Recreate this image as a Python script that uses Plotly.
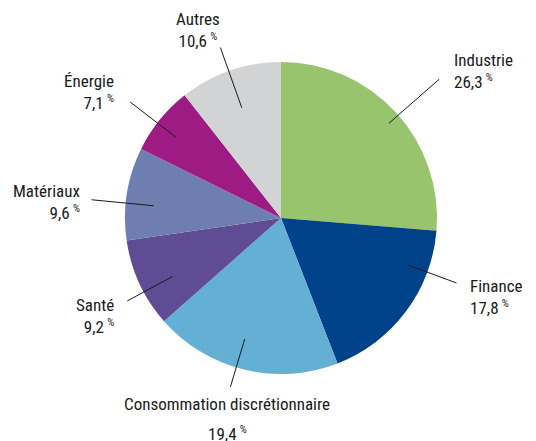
import math
import plotly.graph_objects as go

# ---- data ----
sectors = ["Industrie", "Finance", "Consommation discrétionnaire", "Santé",
           "Matériaux", "Énergie", "Autres"]
weights = [26.3, 17.8, 19.4, 9.2, 9.6, 7.1, 10.6]
colors = ["#98C46E", "#00428A", "#64AFD4", "#604B95", "#6F7EB1", "#9D1B82", "#D2D3D5"]

# ---- layout helpers (pixels) ----
W, H = 536, 441
CX, CY, R = 281, 218, 156
FONT = "Roboto Condensed, Liberation Sans Narrow, DejaVu Sans Condensed, Arial Narrow, sans-serif"
FS = 17

# per-label styling: angle nudge (deg), inner/outer leader radius (fraction of R),
# label anchor (px), xanchor
label_style = [
    dict(da=1.4,  rin=0.92, rout=1.35, x=452, y=71,  xa="left",   ya="middle"),
    dict(da=-16.4, rin=0.87, rout=1.20, x=468, y=297, xa="left",   ya="middle"),
    dict(da=3.0,  rin=0.81, rout=1.13, x=227, y=404, xa="center", ya="middle"),
    dict(da=-3.5, rin=0.79, rout=1.12, x=116, y=316, xa="right",  ya="middle"),
    dict(da=-3.5, rin=0.82, rout=1.22, x=82,  y=202, xa="right",  ya="middle"),
    dict(da=-1.5, rin=0.85, rout=1.22, x=116, y=92,  xa="right",  ya="middle"),
    dict(da=-0.5, rin=0.75, rout=1.16, x=198, y=30,  xa="center", ya="middle"),
]

def px(x):
    return x / W

def py(y):
    return 1 - y / H

fig = go.Figure(go.Pie(
    labels=sectors,
    values=weights,
    sort=False,
    direction="clockwise",
    rotation=0,
    marker=dict(colors=colors, line=dict(width=0)),
    textinfo="none",
    hoverinfo="label+percent",
    showlegend=False,
    domain=dict(x=[px(CX - R), px(CX + R)], y=[py(CY + R), py(CY - R)]),
))

def fmt(v):
    return f"{v:.1f}".replace(".", ",")

total = sum(weights)
cum = 0.0
annotations = []
shapes = []
for name, v, st in zip(sectors, weights, label_style):
    mid = (cum + v / 2) / total * 360 + st["da"]
    cum += v
    a = math.radians(mid)
    sx, sy = math.sin(a), -math.cos(a)
    x0, y0 = CX + st["rin"] * R * sx, CY + st["rin"] * R * sy
    x1, y1 = CX + st["rout"] * R * sx, CY + st["rout"] * R * sy
    shapes.append(dict(type="line", xref="paper", yref="paper",
                       x0=px(x0), y0=py(y0), x1=px(x1), y1=py(y1),
                       line=dict(color="#1a1a1a", width=1)))
    pct = f"{fmt(v)}\u2009<sup><span style='font-size:11px'>%</span></sup>"
    if name.startswith("Consommation"):
        annotations.append(dict(text=name, x=px(st["x"]), y=py(st["y"]),
                                xref="paper", yref="paper", xanchor="center",
                                yanchor="middle", showarrow=False))
        annotations.append(dict(text=pct, x=px(st["x"]), y=py(st["y"] + 29),
                                xref="paper", yref="paper", xanchor="center",
                                yanchor="middle", showarrow=False))
    else:
        annotations.append(dict(text=f"{name}<br>{pct}", x=px(st["x"]), y=py(st["y"]),
                                xref="paper", yref="paper", xanchor=st["xa"],
                                yanchor=st["ya"], align=st["xa"], showarrow=False))

fig.update_layout(
    width=W, height=H,
    margin=dict(l=0, r=0, t=0, b=0),
    paper_bgcolor="white",
    plot_bgcolor="white",
    font=dict(family=FONT, size=FS, color="#1a1a1a"),
    annotations=annotations,
    shapes=shapes,
)

fig.write_html("out.html", config={"displayModeBar": False},
               post_script="document.body.style.margin='0';")
